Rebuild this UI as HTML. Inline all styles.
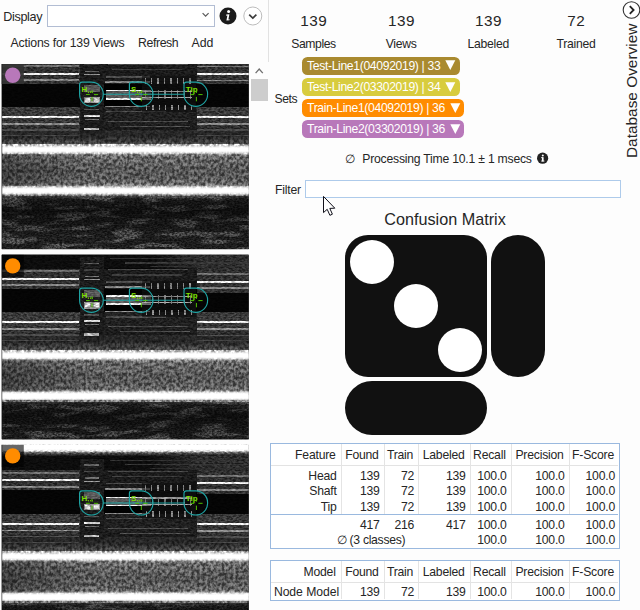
<!DOCTYPE html>
<html><head><meta charset="utf-8"><title>Database Overview</title>
<style>
html,body{margin:0;padding:0;background:#fdfdfd;}
body{width:640px;height:610px;position:relative;overflow:hidden;font-family:"Liberation Sans",sans-serif;}
.t{position:absolute;white-space:nowrap;line-height:1.149;font-family:"Liberation Sans",sans-serif;color:#262626;}
</style></head><body>
<div class="t" style="top:9.90px;font-size:12.6px;color:#262626;letter-spacing:-0.35px;left:3.30px;">Display</div>
<div style="position:absolute;left:47px;top:5px;width:166px;height:20px;border:1px solid #b2bdd3;background:#fff"></div>
<svg style="position:absolute;left:200px;top:10px" width="12" height="10"><path d="M2.6 3.2 L5.6 6.2 L8.6 3.2" fill="none" stroke="#5a5a5a" stroke-width="1.2"/></svg>
<svg style="position:absolute;left:218px;top:6px" width="20" height="20"><circle cx="10" cy="10" r="8.5" fill="#1a1a1a"/><circle cx="10.6" cy="5.6" r="1.5" fill="#fff"/><path d="M8.2 8.6 L11.4 8.2 L10.4 13.4 L11.6 13.2 L11.5 14.2 L8.4 14.6 L9.4 9.6 L8.1 9.7 Z" fill="#fff"/></svg>
<svg style="position:absolute;left:242px;top:5px" width="22" height="22"><circle cx="10.8" cy="11" r="9" fill="#fff" stroke="#b4b4b4" stroke-width="0.9"/><path d="M7.2 9.6 L10.8 13 L14.4 9.6" fill="none" stroke="#3c3c3c" stroke-width="1.7"/></svg>
<div class="t" style="top:36.17px;font-size:12.3px;color:#262626;letter-spacing:-0.2px;left:10.60px;">Actions for 139 Views</div>
<div class="t" style="top:36.17px;font-size:12.3px;color:#262626;letter-spacing:-0.4px;left:138.00px;">Refresh</div>
<div class="t" style="top:36.17px;font-size:12.3px;color:#262626;left:191.50px;">Add</div>
<div style="position:absolute;left:267.7px;top:0;width:1.3px;height:610px;background:#e2e2e2"></div>
<div style="position:absolute;left:251px;top:62px;width:17.5px;height:548px;background:#fdfdfd"></div>
<svg style="position:absolute;left:253px;top:65px" width="13" height="11"><path d="M2.6 8.2 L6.2 4.0 L9.8 8.2" fill="none" stroke="#707070" stroke-width="1.3"/></svg>
<div style="position:absolute;left:251.2px;top:78.8px;width:16.4px;height:21.8px;background:#cdcdcd"></div>
<div class="t" style="top:11.55px;font-size:15.3px;color:#262626;letter-spacing:0.5px;left:163.80px;width:300px;text-align:center;">139</div>
<div class="t" style="top:37.16px;font-size:12.2px;color:#262626;letter-spacing:-0.45px;left:163.50px;width:300px;text-align:center;">Samples</div>
<div class="t" style="top:11.55px;font-size:15.3px;color:#262626;letter-spacing:0.5px;left:251.50px;width:300px;text-align:center;">139</div>
<div class="t" style="top:37.16px;font-size:12.2px;color:#262626;letter-spacing:-0.25px;left:251.20px;width:300px;text-align:center;">Views</div>
<div class="t" style="top:11.55px;font-size:15.3px;color:#262626;letter-spacing:0.5px;left:338.60px;width:300px;text-align:center;">139</div>
<div class="t" style="top:37.16px;font-size:12.2px;color:#262626;letter-spacing:-0.25px;left:338.30px;width:300px;text-align:center;">Labeled</div>
<div class="t" style="top:11.55px;font-size:15.3px;color:#262626;letter-spacing:0.5px;left:426.30px;width:300px;text-align:center;">72</div>
<div class="t" style="top:37.16px;font-size:12.2px;color:#262626;letter-spacing:-0.25px;left:426.00px;width:300px;text-align:center;">Trained</div>
<svg style="position:absolute;left:621px;top:0px" width="19" height="20"><circle cx="10.5" cy="10" r="8.3" fill="#fff" stroke="#333" stroke-width="1.1"/><path d="M8.8 6.2 L12.6 10 L8.8 13.8" fill="none" stroke="#222" stroke-width="1.8"/></svg>
<div class="t" style="left:623px;top:157.5px;font-size:15.4px;transform-origin:0 0;transform:rotate(-90deg);">Database Overview</div>
<div class="t" style="top:91.56px;font-size:12.2px;color:#262626;letter-spacing:-0.4px;left:274.50px;">Sets</div>
<div style="position:absolute;left:302px;top:56.5px;width:158px;height:18.4px;border-radius:5.5px;background:#a98a2f"></div>
<div class="t" style="top:59.06px;font-size:12.2px;color:#fff;letter-spacing:-0.35px;left:307.00px;">Test-Line1(04092019) | 33</div>
<svg style="position:absolute;left:445.4px;top:60.3px" width="12" height="12"><path d="M0.3 0.3 L10.3 0.3 L5.3 10 Z" fill="#fff"/></svg>
<div style="position:absolute;left:302px;top:77.7px;width:158px;height:18.4px;border-radius:5.5px;background:#d8cc3e"></div>
<div class="t" style="top:80.26px;font-size:12.2px;color:#fff;letter-spacing:-0.35px;left:307.00px;">Test-Line2(03302019) | 34</div>
<svg style="position:absolute;left:445.4px;top:81.5px" width="12" height="12"><path d="M0.3 0.3 L10.3 0.3 L5.3 10 Z" fill="#fff"/></svg>
<div style="position:absolute;left:302px;top:98.7px;width:162.3px;height:18.4px;border-radius:5.5px;background:#ff8c00"></div>
<div class="t" style="top:101.26px;font-size:12.2px;color:#fff;letter-spacing:-0.35px;left:307.00px;">Train-Line1(04092019) | 36</div>
<svg style="position:absolute;left:449.7px;top:102.5px" width="12" height="12"><path d="M0.3 0.3 L10.3 0.3 L5.3 10 Z" fill="#fff"/></svg>
<div style="position:absolute;left:302px;top:119.7px;width:162.3px;height:18.4px;border-radius:5.5px;background:#b878ba"></div>
<div class="t" style="top:122.26px;font-size:12.2px;color:#fff;letter-spacing:-0.35px;left:307.00px;">Train-Line2(03302019) | 36</div>
<svg style="position:absolute;left:449.7px;top:123.5px" width="12" height="12"><path d="M0.3 0.3 L10.3 0.3 L5.3 10 Z" fill="#fff"/></svg>
<div class="t" style="top:152.37px;font-size:12.3px;color:#262626;left:344.80px;">&#8709;</div>
<div class="t" style="top:151.56px;font-size:12.2px;color:#262626;letter-spacing:-0.22px;left:362.30px;">Processing Time 10.1 ± 1 msecs</div>
<svg style="position:absolute;left:536px;top:152px" width="13" height="13"><circle cx="6.6" cy="6.2" r="5.6" fill="#222"/><circle cx="6.8" cy="3.4" r="1" fill="#fff"/><rect x="5.9" y="5.2" width="1.7" height="4.2" fill="#fff"/><rect x="5.2" y="5.2" width="1.4" height="0.9" fill="#fff"/><rect x="5.2" y="8.6" width="3.2" height="0.9" fill="#fff"/></svg>
<div class="t" style="top:182.86px;font-size:12.2px;color:#262626;letter-spacing:-0.2px;left:275.00px;">Filter</div>
<div style="position:absolute;left:305px;top:180px;width:313.5px;height:15.8px;border:1px solid #aecbeb;background:#fff"></div>
<svg style="position:absolute;left:322px;top:194.7px" width="16" height="24"><path d="M1.5 1.4 L1.5 17.6 L5.2 14.3 L7.9 20.3 L10.4 19.2 L7.8 13.4 L12.8 13.2 Z" fill="#fff" stroke="#10101a" stroke-width="1"/></svg>
<div class="t" style="top:210.14px;font-size:16.2px;color:#262626;left:295.00px;width:300px;text-align:center;">Confusion Matrix</div>
<div style="position:absolute;left:345px;top:235px;width:142px;height:142px;border-radius:23px;background:#111"></div>
<div style="position:absolute;left:350px;top:240px;width:44px;height:44px;border-radius:50%;background:#fff"></div>
<div style="position:absolute;left:394px;top:284px;width:44px;height:44px;border-radius:50%;background:#fff"></div>
<div style="position:absolute;left:438px;top:328px;width:44px;height:44px;border-radius:50%;background:#fff"></div>
<div style="position:absolute;left:491px;top:235px;width:54px;height:141.5px;border-radius:27px;background:#111"></div>
<div style="position:absolute;left:345px;top:380.7px;width:142px;height:54px;border-radius:27px;background:#111"></div>
<div style="position:absolute;left:270px;top:443px;width:348.29999999999995px;height:104px;border:1px solid #9ab9df;background:#fff"></div>
<div style="position:absolute;left:271px;top:465px;width:347px;height:1px;background:#e3e3e3"></div>
<div style="position:absolute;left:340.5px;top:444px;width:1px;height:70.29999999999995px;background:#e4e4e4"></div>
<div style="position:absolute;left:383.5px;top:444px;width:1px;height:70.29999999999995px;background:#e4e4e4"></div>
<div style="position:absolute;left:418.0px;top:444px;width:1px;height:70.29999999999995px;background:#e4e4e4"></div>
<div style="position:absolute;left:469.5px;top:444px;width:1px;height:70.29999999999995px;background:#e4e4e4"></div>
<div style="position:absolute;left:510.5px;top:444px;width:1px;height:70.29999999999995px;background:#e4e4e4"></div>
<div style="position:absolute;left:568.5px;top:444px;width:1px;height:70.29999999999995px;background:#e4e4e4"></div>
<div class="t" style="top:448.36px;font-size:12.2px;color:#262626;letter-spacing:-0.2px;right:304.30px;">Feature</div>
<div class="t" style="top:448.36px;font-size:12.2px;color:#262626;letter-spacing:-0.2px;right:261.30px;">Found</div>
<div class="t" style="top:448.36px;font-size:12.2px;color:#262626;letter-spacing:-0.2px;right:226.80px;">Train</div>
<div class="t" style="top:448.36px;font-size:12.2px;color:#262626;letter-spacing:-0.2px;right:175.30px;">Labeled</div>
<div class="t" style="top:448.36px;font-size:12.2px;color:#262626;letter-spacing:-0.2px;right:134.30px;">Recall</div>
<div class="t" style="top:448.36px;font-size:12.2px;color:#262626;letter-spacing:-0.2px;right:76.30px;">Precision</div>
<div class="t" style="top:448.36px;font-size:12.2px;color:#262626;letter-spacing:-0.2px;right:26.00px;">F-Score</div>
<div class="t" style="top:468.56px;font-size:12.2px;color:#262626;letter-spacing:-0.2px;right:303.30px;">Head</div>
<div class="t" style="top:468.56px;font-size:12.2px;color:#262626;letter-spacing:-0.2px;right:260.30px;">139</div>
<div class="t" style="top:468.56px;font-size:12.2px;color:#262626;letter-spacing:-0.2px;right:225.80px;">72</div>
<div class="t" style="top:468.56px;font-size:12.2px;color:#262626;letter-spacing:-0.2px;right:174.30px;">139</div>
<div class="t" style="top:468.56px;font-size:12.2px;color:#262626;letter-spacing:-0.2px;right:133.30px;">100.0</div>
<div class="t" style="top:468.56px;font-size:12.2px;color:#262626;letter-spacing:-0.2px;right:75.30px;">100.0</div>
<div class="t" style="top:468.56px;font-size:12.2px;color:#262626;letter-spacing:-0.2px;right:25.00px;">100.0</div>
<div class="t" style="top:484.46px;font-size:12.2px;color:#262626;letter-spacing:-0.2px;right:303.30px;">Shaft</div>
<div class="t" style="top:484.46px;font-size:12.2px;color:#262626;letter-spacing:-0.2px;right:260.30px;">139</div>
<div class="t" style="top:484.46px;font-size:12.2px;color:#262626;letter-spacing:-0.2px;right:225.80px;">72</div>
<div class="t" style="top:484.46px;font-size:12.2px;color:#262626;letter-spacing:-0.2px;right:174.30px;">139</div>
<div class="t" style="top:484.46px;font-size:12.2px;color:#262626;letter-spacing:-0.2px;right:133.30px;">100.0</div>
<div class="t" style="top:484.46px;font-size:12.2px;color:#262626;letter-spacing:-0.2px;right:75.30px;">100.0</div>
<div class="t" style="top:484.46px;font-size:12.2px;color:#262626;letter-spacing:-0.2px;right:25.00px;">100.0</div>
<div class="t" style="top:500.36px;font-size:12.2px;color:#262626;letter-spacing:-0.2px;right:303.30px;">Tip</div>
<div class="t" style="top:500.36px;font-size:12.2px;color:#262626;letter-spacing:-0.2px;right:260.30px;">139</div>
<div class="t" style="top:500.36px;font-size:12.2px;color:#262626;letter-spacing:-0.2px;right:225.80px;">72</div>
<div class="t" style="top:500.36px;font-size:12.2px;color:#262626;letter-spacing:-0.2px;right:174.30px;">139</div>
<div class="t" style="top:500.36px;font-size:12.2px;color:#262626;letter-spacing:-0.2px;right:133.30px;">100.0</div>
<div class="t" style="top:500.36px;font-size:12.2px;color:#262626;letter-spacing:-0.2px;right:75.30px;">100.0</div>
<div class="t" style="top:500.36px;font-size:12.2px;color:#262626;letter-spacing:-0.2px;right:25.00px;">100.0</div>
<div class="t" style="top:517.56px;font-size:12.2px;color:#262626;letter-spacing:-0.2px;right:260.30px;">417</div>
<div class="t" style="top:517.56px;font-size:12.2px;color:#262626;letter-spacing:-0.2px;right:225.80px;">216</div>
<div class="t" style="top:517.56px;font-size:12.2px;color:#262626;letter-spacing:-0.2px;right:174.30px;">417</div>
<div class="t" style="top:517.56px;font-size:12.2px;color:#262626;letter-spacing:-0.2px;right:133.30px;">100.0</div>
<div class="t" style="top:517.56px;font-size:12.2px;color:#262626;letter-spacing:-0.2px;right:75.30px;">100.0</div>
<div class="t" style="top:517.56px;font-size:12.2px;color:#262626;letter-spacing:-0.2px;right:25.00px;">100.0</div>
<div class="t" style="top:533.46px;font-size:12.2px;color:#262626;letter-spacing:-0.2px;right:133.30px;">100.0</div>
<div class="t" style="top:533.46px;font-size:12.2px;color:#262626;letter-spacing:-0.2px;right:75.30px;">100.0</div>
<div class="t" style="top:533.46px;font-size:12.2px;color:#262626;letter-spacing:-0.2px;right:25.00px;">100.0</div>
<div style="position:absolute;left:271px;top:514.3px;width:347px;height:1px;background:#9ab9df"></div>
<div class="t" style="top:533.46px;font-size:12.2px;color:#262626;letter-spacing:-0.3px;left:336.80px;">&#8709; (3 classes)</div>
<div style="position:absolute;left:270px;top:559.5px;width:348.29999999999995px;height:39.799999999999955px;border:1px solid #9ab9df;background:#fff"></div>
<div style="position:absolute;left:271px;top:581.5px;width:347px;height:1px;background:#e3e3e3"></div>
<div style="position:absolute;left:340.5px;top:560.5px;width:1px;height:38.799999999999955px;background:#e4e4e4"></div>
<div style="position:absolute;left:383.5px;top:560.5px;width:1px;height:38.799999999999955px;background:#e4e4e4"></div>
<div style="position:absolute;left:418.0px;top:560.5px;width:1px;height:38.799999999999955px;background:#e4e4e4"></div>
<div style="position:absolute;left:469.5px;top:560.5px;width:1px;height:38.799999999999955px;background:#e4e4e4"></div>
<div style="position:absolute;left:510.5px;top:560.5px;width:1px;height:38.799999999999955px;background:#e4e4e4"></div>
<div style="position:absolute;left:568.5px;top:560.5px;width:1px;height:38.799999999999955px;background:#e4e4e4"></div>
<div class="t" style="top:564.66px;font-size:12.2px;color:#262626;letter-spacing:-0.2px;right:304.30px;">Model</div>
<div class="t" style="top:564.66px;font-size:12.2px;color:#262626;letter-spacing:-0.2px;right:261.30px;">Found</div>
<div class="t" style="top:564.66px;font-size:12.2px;color:#262626;letter-spacing:-0.2px;right:226.80px;">Train</div>
<div class="t" style="top:564.66px;font-size:12.2px;color:#262626;letter-spacing:-0.2px;right:175.30px;">Labeled</div>
<div class="t" style="top:564.66px;font-size:12.2px;color:#262626;letter-spacing:-0.2px;right:134.30px;">Recall</div>
<div class="t" style="top:564.66px;font-size:12.2px;color:#262626;letter-spacing:-0.2px;right:76.30px;">Precision</div>
<div class="t" style="top:564.66px;font-size:12.2px;color:#262626;letter-spacing:-0.2px;right:26.00px;">F-Score</div>
<div class="t" style="top:584.86px;font-size:12.2px;color:#262626;letter-spacing:-0.2px;right:260.30px;">139</div>
<div class="t" style="top:584.86px;font-size:12.2px;color:#262626;letter-spacing:-0.2px;right:225.80px;">72</div>
<div class="t" style="top:584.86px;font-size:12.2px;color:#262626;letter-spacing:-0.2px;right:174.30px;">139</div>
<div class="t" style="top:584.86px;font-size:12.2px;color:#262626;letter-spacing:-0.2px;right:133.30px;">100.0</div>
<div class="t" style="top:584.86px;font-size:12.2px;color:#262626;letter-spacing:-0.2px;right:75.30px;">100.0</div>
<div class="t" style="top:584.86px;font-size:12.2px;color:#262626;letter-spacing:-0.2px;right:25.00px;">100.0</div>
<div style="position:absolute;left:271px;top:583px;width:69.5px;height:16px;overflow:hidden"><div class="t" style="left:2.9px;top:1.9px;font-size:12.2px;letter-spacing:-0.05px">Node Model</div></div>
<svg style="position:absolute;left:0;top:0" width="250" height="610" viewBox="0 0 250 610" shape-rendering="crispEdges">

<defs>
<linearGradient id="gup" x1="0" y1="0" x2="0" y2="1">
 <stop offset="0" stop-color="#383838" stop-opacity="0"/>
 <stop offset="0.3" stop-color="#383838" stop-opacity="0.5"/>
 <stop offset="0.62" stop-color="#3a3a3a"/>
 <stop offset="0.8" stop-color="#4a4a4a"/>
 <stop offset="0.91" stop-color="#727272"/>
 <stop offset="1" stop-color="#b0b0b0"/>
</linearGradient>
<linearGradient id="gtr" x1="0" y1="0" x2="1" y2="0">
 <stop offset="0" stop-color="#2c2c2c" stop-opacity="0"/>
 <stop offset="0.5" stop-color="#2c2c2c" stop-opacity="1"/>
 <stop offset="1" stop-color="#2c2c2c" stop-opacity="1"/>
</linearGradient>
<linearGradient id="gbelow" x1="0" y1="0" x2="0" y2="1">
 <stop offset="0" stop-color="#3a3a3a"/>
 <stop offset="0.42" stop-color="#363636"/>
 <stop offset="0.55" stop-color="#2a2a2a"/>
 <stop offset="1" stop-color="#2a2a2a"/>
</linearGradient>
<linearGradient id="gleft" x1="0" y1="0" x2="1" y2="0">
 <stop offset="0" stop-color="#101010" stop-opacity="0.4"/>
 <stop offset="0.5" stop-color="#101010" stop-opacity="0.2"/>
 <stop offset="1" stop-color="#202020" stop-opacity="0"/>
</linearGradient>
<linearGradient id="gtop" x1="0" y1="0" x2="0" y2="1">
 <stop offset="0" stop-color="#e0e0e0"/>
 <stop offset="0.8" stop-color="#c8c8c8"/>
 <stop offset="0.87" stop-color="#5a5a5a"/>
 <stop offset="0.95" stop-color="#2a2a2a"/>
 <stop offset="1" stop-color="#2a2a2a" stop-opacity="0"/>
</linearGradient>
<linearGradient id="gmid" x1="0" y1="0" x2="0" y2="1">
 <stop offset="0" stop-color="#b0b0b0"/>
 <stop offset="0.17" stop-color="#b0b0b0"/>
 <stop offset="0.195" stop-color="#7c7c7c"/>
 <stop offset="0.25" stop-color="#686868"/>
 <stop offset="0.34" stop-color="#626262"/>
 <stop offset="0.50" stop-color="#565656"/>
 <stop offset="0.64" stop-color="#5a5a5a"/>
 <stop offset="0.76" stop-color="#666666"/>
 <stop offset="0.795" stop-color="#7e7e7e"/>
 <stop offset="0.82" stop-color="#b0b0b0"/>
 <stop offset="1" stop-color="#b0b0b0"/>
</linearGradient>
<linearGradient id="glow" x1="0" y1="0" x2="0" y2="1">
 <stop offset="0" stop-color="#808080"/>
 <stop offset="0.03" stop-color="#4c4c4c"/>
 <stop offset="0.08" stop-color="#222"/>
 <stop offset="0.22" stop-color="#141414"/>
 <stop offset="0.36" stop-color="#1e1e1e"/>
 <stop offset="0.55" stop-color="#2a2a2a"/>
 <stop offset="1" stop-color="#2a2a2a"/>
</linearGradient>
<linearGradient id="gfade" x1="0" y1="0" x2="0" y2="1">
 <stop offset="0" stop-color="#808080" stop-opacity="0.9"/>
 <stop offset="0.3" stop-color="#505050" stop-opacity="0.6"/>
 <stop offset="0.75" stop-color="#303030" stop-opacity="0"/>
 <stop offset="1" stop-color="#303030" stop-opacity="0"/>
</linearGradient>
<filter id="nz" x="0" y="0" width="100%" height="100%" color-interpolation-filters="sRGB">
 <feTurbulence type="fractalNoise" baseFrequency="0.33 0.6" numOctaves="2" seed="7" result="t"/>
 <feColorMatrix in="t" type="matrix" values="1 0 0 0 0  1 0 0 0 0  1 0 0 0 0  0 0 0 0 1" result="g"/>
 <feComponentTransfer in="g" result="n">
  <feFuncR type="linear" slope="2.4" intercept="-0.7"/>
  <feFuncG type="linear" slope="2.4" intercept="-0.7"/>
  <feFuncB type="linear" slope="2.4" intercept="-0.7"/>
 </feComponentTransfer>
 <feComposite in="SourceGraphic" in2="n" operator="arithmetic" k1="0.9" k2="0.55" k3="0" k4="0" result="c"/>
 <feGaussianBlur in="c" stdDeviation="0.4 0.35"/>
</filter>
<filter id="nzv" x="0" y="0" width="100%" height="100%" color-interpolation-filters="sRGB">
 <feTurbulence type="fractalNoise" baseFrequency="0.36 0.3" numOctaves="2" seed="11" result="t"/>
 <feColorMatrix in="t" type="matrix" values="1 0 0 0 0  1 0 0 0 0  1 0 0 0 0  0 0 0 0 1" result="g"/>
 <feComponentTransfer in="g" result="n">
  <feFuncR type="linear" slope="2.4" intercept="-0.7"/>
  <feFuncG type="linear" slope="2.4" intercept="-0.7"/>
  <feFuncB type="linear" slope="2.4" intercept="-0.7"/>
 </feComponentTransfer>
 <feComposite in="SourceGraphic" in2="n" operator="arithmetic" k1="0.9" k2="0.55" k3="0" k4="0" result="c"/>
 <feGaussianBlur in="c" stdDeviation="0.4 0.5"/>
</filter>
<filter id="nzl" x="0" y="0" width="100%" height="100%" color-interpolation-filters="sRGB">
 <feTurbulence type="fractalNoise" baseFrequency="0.035 0.16" numOctaves="2" seed="5" result="t0"/>
 <feColorMatrix in="t0" type="matrix" values="1 0 0 0 0  1 0 0 0 0  1 0 0 0 0  0 0 0 0 1" result="g0"/>
 <feComponentTransfer in="g0" result="m">
  <feFuncR type="linear" slope="7" intercept="-3.45"/>
  <feFuncG type="linear" slope="7" intercept="-3.45"/>
  <feFuncB type="linear" slope="7" intercept="-3.45"/>
 </feComponentTransfer>
 <feComposite in="SourceGraphic" in2="m" operator="arithmetic" k1="1.0" k2="0.7" k3="0" k4="0" result="c0"/>
 <feTurbulence type="fractalNoise" baseFrequency="0.4 0.7" numOctaves="2" seed="9" result="t"/>
 <feColorMatrix in="t" type="matrix" values="1 0 0 0 0  1 0 0 0 0  1 0 0 0 0  0 0 0 0 1" result="g"/>
 <feComponentTransfer in="g" result="n">
  <feFuncR type="linear" slope="2.6" intercept="-0.8"/>
  <feFuncG type="linear" slope="2.6" intercept="-0.8"/>
  <feFuncB type="linear" slope="2.6" intercept="-0.8"/>
 </feComponentTransfer>
 <feComposite in="c0" in2="n" operator="arithmetic" k1="1.0" k2="0.5" k3="0" k4="0" result="c"/>
 <feGaussianBlur in="c" stdDeviation="0.4 0.35"/>
</filter>
<filter id="bl" x="0" y="0" width="100%" height="100%"><feGaussianBlur stdDeviation="0.2 0.85"/></filter>
<filter id="nz2" x="0" y="0" width="100%" height="100%" color-interpolation-filters="sRGB">
 <feTurbulence type="fractalNoise" baseFrequency="0.25 0.8" numOctaves="2" seed="3" result="t"/>
 <feColorMatrix in="t" type="matrix" values="1 0 0 0 0  1 0 0 0 0  1 0 0 0 0  0 0 0 0 1" result="g"/>
 <feComponentTransfer in="g" result="n">
  <feFuncR type="linear" slope="2.2" intercept="-0.6"/>
  <feFuncG type="linear" slope="2.2" intercept="-0.6"/>
  <feFuncB type="linear" slope="2.2" intercept="-0.6"/>
 </feComponentTransfer>
 <feComposite in="SourceGraphic" in2="n" operator="arithmetic" k1="0.5" k2="0.78" k3="0" k4="0" result="c"/>
 <feGaussianBlur in="c" stdDeviation="0.5 0.5"/>
</filter>
</defs>

<clipPath id="cp0"><rect shape-rendering="geometricPrecision" x="1.5" y="64.0" width="247.2" height="185.3"/></clipPath>
<g clip-path="url(#cp0)">
<rect x="1.5" y="64.0" width="247.2" height="185.3" fill="#141414" />
<g filter="url(#nz)">
<rect x="1.5" y="14.3" width="247.2" height="49.5" fill="#0d0d0d" />
<rect x="1.5" y="63.5" width="247.2" height="20.2" fill="#303030" />
<rect x="1.5" y="83.5" width="247.2" height="23.4" fill="#050505" />
<rect x="196.5" y="83.4" width="52.2" height="0.5" fill="#303030" />
<rect x="196.5" y="106.8" width="52.2" height="3.0" fill="#050505" />
<rect x="150.0" y="14.3" width="98.7" height="49.5" fill="url(#gtr)" />
<rect x="1.5" y="106.9" width="247.2" height="42.0" fill="url(#gbelow)" />
<rect x="1.5" y="22.3" width="247.2" height="27.0" fill="url(#gtop)" />
<rect x="103.5" y="63.3" width="93.0" height="67.0" fill="#000" opacity="0.42"/>
<rect x="79.5" y="52.3" width="24.0" height="84.0" fill="#1b1b1b" />
</g>
<g filter="url(#nzl)">
<rect x="1.5" y="193.3" width="247.2" height="80.0" fill="url(#glow)" />
</g>
<g filter="url(#nzv)">
<rect x="1.5" y="128.3" width="247.2" height="20.0" fill="url(#gup)" />
<g transform="translate(0 94.3)">
<rect x="1.5" y="50.0" width="247.2" height="52.0" fill="url(#gmid)" />
<rect x="1.5" y="59.5" width="90.0" height="32.5" fill="url(#gleft)" />
<rect x="1.5" y="99.5" width="247.2" height="7.0" fill="url(#gfade)" />
</g>
</g>
<g filter="url(#nz2)">
<rect x="1.5" y="65.2" width="77.5" height="1.5" fill="#6a6a6a" />
<rect x="196.5" y="65.8" width="52.2" height="1.5" fill="#6a6a6a" />
<rect x="1.5" y="72.5" width="77.5" height="2.0" fill="#e8e8e8" />
<rect x="196.5" y="73.0" width="52.2" height="2.0" fill="#e8e8e8" />
<rect x="1.5" y="79.2" width="77.5" height="1.5" fill="#808080" />
<rect x="196.5" y="79.8" width="52.2" height="1.5" fill="#808080" />
<rect x="1.5" y="115.8" width="77.5" height="2.1" fill="#ececec" />
<rect x="196.5" y="116.0" width="52.2" height="2.1" fill="#ececec" />
<rect x="1.5" y="122.9" width="77.5" height="1.6" fill="#888888" />
<rect x="196.5" y="123.2" width="52.2" height="1.6" fill="#888888" />
<rect x="1.5" y="129.1" width="77.5" height="1.4" fill="#484848" />
<rect x="196.5" y="129.4" width="52.2" height="1.4" fill="#484848" />
<rect x="1.5" y="134.7" width="77.5" height="1.2" fill="#404040" />
<rect x="196.5" y="135.0" width="52.2" height="1.2" fill="#404040" />
<rect x="84.0" y="57.5" width="15.0" height="1.6" fill="#5a5a5a" />
<rect x="85.0" y="70.5" width="14.0" height="1.6" fill="#6c6c6c" />
<rect x="84.0" y="73.6" width="16.0" height="1.4" fill="#8c8c8c" />
<rect x="84.0" y="115.3" width="16.0" height="2.0" fill="#c8c8c8" />
<rect x="85.0" y="118.6" width="14.0" height="1.4" fill="#6c6c6c" />
<rect x="84.0" y="128.2" width="15.0" height="2.2" fill="#b0b0b0" />
<rect x="84.0" y="64.2" width="15.0" height="1.2" fill="#3c3c3c" />
<rect x="84.0" y="109.2" width="15.0" height="1.2" fill="#505050" />
<rect x="84.0" y="85.3" width="16.0" height="6.5" fill="#565656" />
<rect x="84.0" y="96.9" width="16.0" height="6.5" fill="#8e8e8e" />
<rect x="85.0" y="97.9" width="5.0" height="4.0" fill="#d8d8d8" />
<rect x="94.0" y="97.9" width="5.0" height="4.0" fill="#cfcfcf" />
<rect x="108.0" y="63.6" width="80.0" height="1.4" fill="#444" />
<rect x="112.0" y="69.2" width="70.0" height="1.2" fill="#3a3a3a" />
<rect x="106.0" y="76.1" width="44.0" height="1.4" fill="#4c4c4c" />
<rect x="105.0" y="81.2" width="45.0" height="1.6" fill="#808080" />
<rect x="105.0" y="105.7" width="45.0" height="1.6" fill="#808080" />
<rect x="106.0" y="111.1" width="60.0" height="1.3" fill="#484848" />
<rect x="108.0" y="120.6" width="80.0" height="1.4" fill="#4a4a4a" />
<rect x="120.0" y="125.7" width="70.0" height="1.2" fill="#4c4c4c" />
<rect x="110.0" y="52.6" width="120.0" height="1.3" fill="#2e2e2e" />
<rect x="125.0" y="57.1" width="124.0" height="1.3" fill="#343434" />
<rect x="150.0" y="60.7" width="98.0" height="1.2" fill="#2c2c2c" />
<rect x="105.5" y="89.7" width="45.0" height="9.6" fill="#565656" />
<rect x="105.5" y="89.6" width="45.0" height="1.8" fill="#dcdcdc" />
<rect x="105.5" y="97.6" width="45.0" height="1.9" fill="#e6e6e6" />
<rect x="142.0" y="76.3" width="54.0" height="36.0" fill="#141414" opacity="0.6"/>
<rect x="144.5" y="78.3" width="1.4" height="5.4" fill="#7e7e7e" />
<rect x="145.7" y="104.5" width="1.4" height="5.6" fill="#848484" />
<rect x="145.2" y="89.7" width="1.2" height="9.2" fill="#6c6c6c" />
<rect x="150.9" y="78.3" width="1.4" height="5.4" fill="#7e7e7e" />
<rect x="152.1" y="104.5" width="1.4" height="5.6" fill="#848484" />
<rect x="151.6" y="89.7" width="1.2" height="9.2" fill="#6c6c6c" />
<rect x="157.3" y="78.3" width="1.4" height="5.4" fill="#7e7e7e" />
<rect x="158.5" y="104.5" width="1.4" height="5.6" fill="#848484" />
<rect x="158.0" y="89.7" width="1.2" height="9.2" fill="#6c6c6c" />
<rect x="163.7" y="78.3" width="1.4" height="5.4" fill="#7e7e7e" />
<rect x="164.9" y="104.5" width="1.4" height="5.6" fill="#848484" />
<rect x="164.4" y="89.7" width="1.2" height="9.2" fill="#6c6c6c" />
<rect x="170.1" y="78.3" width="1.4" height="5.4" fill="#7e7e7e" />
<rect x="171.3" y="104.5" width="1.4" height="5.6" fill="#848484" />
<rect x="170.8" y="89.7" width="1.2" height="9.2" fill="#6c6c6c" />
<rect x="176.5" y="78.3" width="1.4" height="5.4" fill="#7e7e7e" />
<rect x="177.7" y="104.5" width="1.4" height="5.6" fill="#848484" />
<rect x="177.2" y="89.7" width="1.2" height="9.2" fill="#6c6c6c" />
<rect x="182.9" y="78.3" width="1.4" height="5.4" fill="#7e7e7e" />
<rect x="184.1" y="104.5" width="1.4" height="5.6" fill="#848484" />
<rect x="183.6" y="89.7" width="1.2" height="9.2" fill="#6c6c6c" />
<rect x="189.3" y="78.3" width="1.4" height="5.4" fill="#7e7e7e" />
<rect x="190.5" y="104.5" width="1.4" height="5.6" fill="#848484" />
<rect x="190.0" y="89.7" width="1.2" height="9.2" fill="#6c6c6c" />
<rect x="141.5" y="90.5" width="50.0" height="1.1" fill="#8c8c8c" />
<rect x="141.5" y="97.1" width="50.0" height="1.1" fill="#9a9a9a" />
</g>
<g filter="url(#bl)">
<rect x="1.5" y="146.3" width="247.2" height="6.9" fill="#fff" />
<rect x="1.5" y="186.8" width="247.2" height="7.6" fill="#fff" />
<rect x="1.5" y="22.3" width="247.2" height="21.6" fill="#fff" />
</g>
<g shape-rendering="geometricPrecision">
<path d="M82.1 82.1 L91.4 82.1 A11.8 11.8 0 0 1 103.2 93.9 L103.2 94.5 A11.8 11.8 0 0 1 91.4 106.3 L91.4 106.3 A11.8 11.8 0 0 1 79.6 94.5 L79.6 84.6 A2.5 2.5 0 0 1 82.1 82.1 Z" fill="none" stroke="#1fa3a3" stroke-width="1.15"/>
<path d="M131.9 82.1 L141.2 82.1 A11.8 11.8 0 0 1 153.0 93.9 L153.0 94.5 A11.8 11.8 0 0 1 141.2 106.3 L141.2 106.3 A11.8 11.8 0 0 1 129.4 94.5 L129.4 84.6 A2.5 2.5 0 0 1 131.9 82.1 Z" fill="none" stroke="#1fa3a3" stroke-width="1.15"/>
<path d="M186.5 82.1 L195.8 82.1 A11.8 11.8 0 0 1 207.6 93.9 L207.6 94.5 A11.8 11.8 0 0 1 195.8 106.3 L195.8 106.3 A11.8 11.8 0 0 1 184.0 94.5 L184.0 84.6 A2.5 2.5 0 0 1 186.5 82.1 Z" fill="none" stroke="#1fa3a3" stroke-width="1.15"/>
<path d="M103 94.3 L184 94.3" stroke="#1fa3a3" stroke-width="1.1"/>
<text x="81.4" y="92.3" font-family="Liberation Sans, sans-serif" font-size="7.9" font-weight="bold" fill="#7fe000">H</text>
<text x="131.0" y="92.3" font-family="Liberation Sans, sans-serif" font-size="7.9" font-weight="bold" fill="#7fe000">S</text>
<text x="185.8" y="92.3" font-family="Liberation Sans, sans-serif" font-size="7.9" font-weight="bold" fill="#7fe000">Tip</text>
<path d="M87.8 92.1 h5 M137 92.1 h6.5" stroke="#7fe000" stroke-width="1.1" stroke-dasharray="1.2 0.9"/>
<path d="M86.0 94.6 h3.8 M94.0 94.6 h4.2 M92.0 90.3 v2.6 M92.0 96.9 v4.4" stroke="#4fc000" stroke-width="1.0"/>
<path d="M135.3 94.6 h3.8 M143.3 94.6 h4.2 M141.3 90.3 v2.6 M141.3 96.9 v4.4" stroke="#4fc000" stroke-width="1.0"/>
<path d="M190.4 94.6 h3.8 M198.4 94.6 h4.2 M196.4 90.3 v2.6 M196.4 96.9 v4.4" stroke="#4fc000" stroke-width="1.0"/>
<rect x="1.5" y="64.0" width="22.3" height="20" fill="#333" opacity="0.93"/>
<rect x="1.2" y="64.0" width="1" height="185.3" fill="#0a0a0a"/>
<circle cx="12.7" cy="75.3" r="7.7" fill="#b878ba"/>
</g>
</g>
<clipPath id="cp1"><rect shape-rendering="geometricPrecision" x="1.5" y="254.6" width="247.2" height="184.8"/></clipPath>
<g clip-path="url(#cp1)">
<rect x="1.5" y="254.6" width="247.2" height="184.8" fill="#141414" />
<g filter="url(#nz)">
<rect x="1.5" y="219.4" width="247.2" height="49.5" fill="#0d0d0d" />
<rect x="1.5" y="268.6" width="247.2" height="20.2" fill="#303030" />
<rect x="1.5" y="288.6" width="247.2" height="23.4" fill="#050505" />
<rect x="196.5" y="288.5" width="52.2" height="4.0" fill="#303030" />
<rect x="196.5" y="311.9" width="52.2" height="1.0" fill="#050505" />
<rect x="150.0" y="219.4" width="98.7" height="49.5" fill="url(#gtr)" />
<rect x="1.5" y="312.0" width="247.2" height="42.2" fill="url(#gbelow)" />
<rect x="1.5" y="227.4" width="247.2" height="27.0" fill="url(#gtop)" />
<rect x="103.5" y="268.4" width="93.0" height="67.0" fill="#000" opacity="0.42"/>
<rect x="79.5" y="257.4" width="24.0" height="84.0" fill="#1b1b1b" />
</g>
<g filter="url(#nzl)">
<rect x="1.5" y="398.6" width="247.2" height="80.0" fill="url(#glow)" />
</g>
<g filter="url(#nzv)">
<rect x="1.5" y="333.4" width="247.2" height="20.2" fill="url(#gup)" />
<g transform="translate(0 299.6)">
<rect x="1.5" y="50.0" width="247.2" height="52.0" fill="url(#gmid)" />
<rect x="1.5" y="59.5" width="90.0" height="32.5" fill="url(#gleft)" />
<rect x="1.5" y="99.5" width="247.2" height="7.0" fill="url(#gfade)" />
</g>
</g>
<g filter="url(#nz2)">
<rect x="1.5" y="270.3" width="77.5" height="1.5" fill="#6a6a6a" />
<rect x="196.5" y="273.2" width="52.2" height="1.5" fill="#6a6a6a" />
<rect x="1.5" y="277.6" width="77.5" height="2.0" fill="#e8e8e8" />
<rect x="196.5" y="280.5" width="52.2" height="2.0" fill="#e8e8e8" />
<rect x="1.5" y="284.3" width="77.5" height="1.5" fill="#808080" />
<rect x="196.5" y="287.2" width="52.2" height="1.5" fill="#808080" />
<rect x="1.5" y="320.8" width="77.5" height="2.1" fill="#ececec" />
<rect x="196.5" y="321.1" width="52.2" height="2.1" fill="#ececec" />
<rect x="1.5" y="328.0" width="77.5" height="1.6" fill="#888888" />
<rect x="196.5" y="328.3" width="52.2" height="1.6" fill="#888888" />
<rect x="1.5" y="334.2" width="77.5" height="1.4" fill="#484848" />
<rect x="196.5" y="334.5" width="52.2" height="1.4" fill="#484848" />
<rect x="1.5" y="339.8" width="77.5" height="1.2" fill="#404040" />
<rect x="196.5" y="340.1" width="52.2" height="1.2" fill="#404040" />
<rect x="84.0" y="262.6" width="15.0" height="1.6" fill="#5a5a5a" />
<rect x="85.0" y="275.6" width="14.0" height="1.6" fill="#6c6c6c" />
<rect x="84.0" y="278.7" width="16.0" height="1.4" fill="#8c8c8c" />
<rect x="84.0" y="320.4" width="16.0" height="2.0" fill="#c8c8c8" />
<rect x="85.0" y="323.7" width="14.0" height="1.4" fill="#6c6c6c" />
<rect x="84.0" y="333.3" width="15.0" height="2.2" fill="#b0b0b0" />
<rect x="84.0" y="269.3" width="15.0" height="1.2" fill="#3c3c3c" />
<rect x="84.0" y="314.3" width="15.0" height="1.2" fill="#505050" />
<rect x="84.0" y="290.4" width="16.0" height="6.5" fill="#565656" />
<rect x="84.0" y="302.0" width="16.0" height="6.5" fill="#8e8e8e" />
<rect x="85.0" y="303.0" width="5.0" height="4.0" fill="#d8d8d8" />
<rect x="94.0" y="303.0" width="5.0" height="4.0" fill="#cfcfcf" />
<rect x="108.0" y="268.7" width="80.0" height="1.4" fill="#444" />
<rect x="112.0" y="274.3" width="70.0" height="1.2" fill="#3a3a3a" />
<rect x="106.0" y="281.2" width="44.0" height="1.4" fill="#4c4c4c" />
<rect x="105.0" y="286.3" width="45.0" height="1.6" fill="#808080" />
<rect x="105.0" y="310.8" width="45.0" height="1.6" fill="#808080" />
<rect x="106.0" y="316.2" width="60.0" height="1.3" fill="#484848" />
<rect x="108.0" y="325.7" width="80.0" height="1.4" fill="#4a4a4a" />
<rect x="120.0" y="330.8" width="70.0" height="1.2" fill="#4c4c4c" />
<rect x="110.0" y="257.8" width="120.0" height="1.3" fill="#2e2e2e" />
<rect x="125.0" y="262.2" width="124.0" height="1.3" fill="#343434" />
<rect x="150.0" y="265.8" width="98.0" height="1.2" fill="#2c2c2c" />
<rect x="105.5" y="294.8" width="45.0" height="9.6" fill="#565656" />
<rect x="105.5" y="294.7" width="45.0" height="1.8" fill="#dcdcdc" />
<rect x="105.5" y="302.7" width="45.0" height="1.9" fill="#e6e6e6" />
<rect x="142.0" y="281.4" width="54.0" height="36.0" fill="#141414" opacity="0.6"/>
<rect x="144.5" y="283.4" width="1.4" height="5.4" fill="#7e7e7e" />
<rect x="145.7" y="309.6" width="1.4" height="5.6" fill="#848484" />
<rect x="145.2" y="294.8" width="1.2" height="9.2" fill="#6c6c6c" />
<rect x="150.9" y="283.4" width="1.4" height="5.4" fill="#7e7e7e" />
<rect x="152.1" y="309.6" width="1.4" height="5.6" fill="#848484" />
<rect x="151.6" y="294.8" width="1.2" height="9.2" fill="#6c6c6c" />
<rect x="157.3" y="283.4" width="1.4" height="5.4" fill="#7e7e7e" />
<rect x="158.5" y="309.6" width="1.4" height="5.6" fill="#848484" />
<rect x="158.0" y="294.8" width="1.2" height="9.2" fill="#6c6c6c" />
<rect x="163.7" y="283.4" width="1.4" height="5.4" fill="#7e7e7e" />
<rect x="164.9" y="309.6" width="1.4" height="5.6" fill="#848484" />
<rect x="164.4" y="294.8" width="1.2" height="9.2" fill="#6c6c6c" />
<rect x="170.1" y="283.4" width="1.4" height="5.4" fill="#7e7e7e" />
<rect x="171.3" y="309.6" width="1.4" height="5.6" fill="#848484" />
<rect x="170.8" y="294.8" width="1.2" height="9.2" fill="#6c6c6c" />
<rect x="176.5" y="283.4" width="1.4" height="5.4" fill="#7e7e7e" />
<rect x="177.7" y="309.6" width="1.4" height="5.6" fill="#848484" />
<rect x="177.2" y="294.8" width="1.2" height="9.2" fill="#6c6c6c" />
<rect x="182.9" y="283.4" width="1.4" height="5.4" fill="#7e7e7e" />
<rect x="184.1" y="309.6" width="1.4" height="5.6" fill="#848484" />
<rect x="183.6" y="294.8" width="1.2" height="9.2" fill="#6c6c6c" />
<rect x="189.3" y="283.4" width="1.4" height="5.4" fill="#7e7e7e" />
<rect x="190.5" y="309.6" width="1.4" height="5.6" fill="#848484" />
<rect x="190.0" y="294.8" width="1.2" height="9.2" fill="#6c6c6c" />
<rect x="141.5" y="295.6" width="50.0" height="1.1" fill="#8c8c8c" />
<rect x="141.5" y="302.2" width="50.0" height="1.1" fill="#9a9a9a" />
</g>
<g filter="url(#bl)">
<rect x="1.5" y="351.6" width="247.2" height="6.9" fill="#fff" />
<rect x="1.5" y="392.1" width="247.2" height="7.6" fill="#fff" />
<rect x="1.5" y="227.4" width="247.2" height="21.6" fill="#fff" />
</g>
<g shape-rendering="geometricPrecision">
<path d="M82.1 288.1 L91.4 288.1 A11.8 11.8 0 0 1 103.2 299.9 L103.2 300.5 A11.8 11.8 0 0 1 91.4 312.3 L91.4 312.3 A11.8 11.8 0 0 1 79.6 300.5 L79.6 290.6 A2.5 2.5 0 0 1 82.1 288.1 Z" fill="none" stroke="#1fa3a3" stroke-width="1.15"/>
<path d="M131.9 288.1 L141.2 288.1 A11.8 11.8 0 0 1 153.0 299.9 L153.0 300.5 A11.8 11.8 0 0 1 141.2 312.3 L141.2 312.3 A11.8 11.8 0 0 1 129.4 300.5 L129.4 290.6 A2.5 2.5 0 0 1 131.9 288.1 Z" fill="none" stroke="#1fa3a3" stroke-width="1.15"/>
<path d="M186.5 288.1 L195.8 288.1 A11.8 11.8 0 0 1 207.6 299.9 L207.6 300.5 A11.8 11.8 0 0 1 195.8 312.3 L195.8 312.3 A11.8 11.8 0 0 1 184.0 300.5 L184.0 290.6 A2.5 2.5 0 0 1 186.5 288.1 Z" fill="none" stroke="#1fa3a3" stroke-width="1.15"/>
<path d="M103 300.3 L184 300.3" stroke="#1fa3a3" stroke-width="1.1"/>
<text x="81.4" y="298.3" font-family="Liberation Sans, sans-serif" font-size="7.9" font-weight="bold" fill="#7fe000">H</text>
<text x="131.0" y="298.3" font-family="Liberation Sans, sans-serif" font-size="7.9" font-weight="bold" fill="#7fe000">S</text>
<text x="185.8" y="298.3" font-family="Liberation Sans, sans-serif" font-size="7.9" font-weight="bold" fill="#7fe000">Tip</text>
<path d="M87.8 298.1 h5 M137 298.1 h6.5" stroke="#7fe000" stroke-width="1.1" stroke-dasharray="1.2 0.9"/>
<path d="M86.0 300.6 h3.8 M94.0 300.6 h4.2 M92.0 296.3 v2.6 M92.0 302.9 v4.4" stroke="#4fc000" stroke-width="1.0"/>
<path d="M135.3 300.6 h3.8 M143.3 300.6 h4.2 M141.3 296.3 v2.6 M141.3 302.9 v4.4" stroke="#4fc000" stroke-width="1.0"/>
<path d="M190.4 300.6 h3.8 M198.4 300.6 h4.2 M196.4 296.3 v2.6 M196.4 302.9 v4.4" stroke="#4fc000" stroke-width="1.0"/>
<rect x="1.5" y="254.6" width="22.3" height="22.5" fill="#000" opacity="0.6"/>
<rect x="1.2" y="254.6" width="1" height="184.8" fill="#0a0a0a"/>
<circle cx="12.7" cy="265.9" r="7.7" fill="#ff8c00"/>
</g>
</g>
<clipPath id="cp2"><rect shape-rendering="geometricPrecision" x="1.5" y="444.6" width="247.2" height="165.4"/></clipPath>
<g clip-path="url(#cp2)">
<rect x="1.5" y="444.6" width="247.2" height="165.4" fill="#141414" />
<g filter="url(#nz)">
<rect x="1.5" y="421.2" width="247.2" height="49.5" fill="#0d0d0d" />
<rect x="1.5" y="470.4" width="247.2" height="20.2" fill="#303030" />
<rect x="1.5" y="490.4" width="247.2" height="23.4" fill="#050505" />
<rect x="196.5" y="490.3" width="52.2" height="4.0" fill="#303030" />
<rect x="196.5" y="513.7" width="52.2" height="4.5" fill="#050505" />
<rect x="150.0" y="421.2" width="98.7" height="49.5" fill="url(#gtr)" />
<rect x="1.5" y="513.8" width="247.2" height="41.6" fill="url(#gbelow)" />
<rect x="1.5" y="429.2" width="247.2" height="27.0" fill="url(#gtop)" />
<rect x="103.5" y="470.2" width="93.0" height="67.0" fill="#000" opacity="0.42"/>
<rect x="79.5" y="459.2" width="24.0" height="84.0" fill="#1b1b1b" />
</g>
<g filter="url(#nzl)">
<rect x="1.5" y="599.8" width="247.2" height="80.0" fill="url(#glow)" />
</g>
<g filter="url(#nzv)">
<rect x="1.5" y="535.2" width="247.2" height="19.6" fill="url(#gup)" />
<g transform="translate(0 500.8)">
<rect x="1.5" y="50.0" width="247.2" height="52.0" fill="url(#gmid)" />
<rect x="1.5" y="59.5" width="90.0" height="32.5" fill="url(#gleft)" />
<rect x="1.5" y="99.5" width="247.2" height="7.0" fill="url(#gfade)" />
</g>
</g>
<g filter="url(#nz2)">
<rect x="1.5" y="472.1" width="77.5" height="1.5" fill="#6a6a6a" />
<rect x="196.5" y="475.0" width="52.2" height="1.5" fill="#6a6a6a" />
<rect x="1.5" y="479.4" width="77.5" height="2.0" fill="#e8e8e8" />
<rect x="196.5" y="482.3" width="52.2" height="2.0" fill="#e8e8e8" />
<rect x="1.5" y="486.1" width="77.5" height="1.5" fill="#808080" />
<rect x="196.5" y="489.0" width="52.2" height="1.5" fill="#808080" />
<rect x="1.5" y="522.7" width="77.5" height="2.1" fill="#ececec" />
<rect x="196.5" y="523.0" width="52.2" height="2.1" fill="#ececec" />
<rect x="1.5" y="529.8" width="77.5" height="1.6" fill="#888888" />
<rect x="196.5" y="530.1" width="52.2" height="1.6" fill="#888888" />
<rect x="1.5" y="536.0" width="77.5" height="1.4" fill="#484848" />
<rect x="196.5" y="536.3" width="52.2" height="1.4" fill="#484848" />
<rect x="1.5" y="541.6" width="77.5" height="1.2" fill="#404040" />
<rect x="196.5" y="541.9" width="52.2" height="1.2" fill="#404040" />
<rect x="84.0" y="464.4" width="15.0" height="1.6" fill="#5a5a5a" />
<rect x="85.0" y="477.4" width="14.0" height="1.6" fill="#6c6c6c" />
<rect x="84.0" y="480.5" width="16.0" height="1.4" fill="#8c8c8c" />
<rect x="84.0" y="522.2" width="16.0" height="2.0" fill="#c8c8c8" />
<rect x="85.0" y="525.5" width="14.0" height="1.4" fill="#6c6c6c" />
<rect x="84.0" y="535.1" width="15.0" height="2.2" fill="#b0b0b0" />
<rect x="84.0" y="471.1" width="15.0" height="1.2" fill="#3c3c3c" />
<rect x="84.0" y="516.1" width="15.0" height="1.2" fill="#505050" />
<rect x="84.0" y="492.2" width="16.0" height="6.5" fill="#565656" />
<rect x="84.0" y="503.8" width="16.0" height="6.5" fill="#8e8e8e" />
<rect x="85.0" y="504.8" width="5.0" height="4.0" fill="#d8d8d8" />
<rect x="94.0" y="504.8" width="5.0" height="4.0" fill="#cfcfcf" />
<rect x="108.0" y="470.5" width="80.0" height="1.4" fill="#444" />
<rect x="112.0" y="476.1" width="70.0" height="1.2" fill="#3a3a3a" />
<rect x="106.0" y="483.0" width="44.0" height="1.4" fill="#4c4c4c" />
<rect x="105.0" y="488.1" width="45.0" height="1.6" fill="#808080" />
<rect x="105.0" y="512.6" width="45.0" height="1.6" fill="#808080" />
<rect x="106.0" y="518.1" width="60.0" height="1.3" fill="#484848" />
<rect x="108.0" y="527.5" width="80.0" height="1.4" fill="#4a4a4a" />
<rect x="120.0" y="532.6" width="70.0" height="1.2" fill="#4c4c4c" />
<rect x="110.0" y="459.6" width="120.0" height="1.3" fill="#2e2e2e" />
<rect x="125.0" y="464.1" width="124.0" height="1.3" fill="#343434" />
<rect x="150.0" y="467.6" width="98.0" height="1.2" fill="#2c2c2c" />
<rect x="105.5" y="496.6" width="45.0" height="9.6" fill="#565656" />
<rect x="105.5" y="496.5" width="45.0" height="1.8" fill="#dcdcdc" />
<rect x="105.5" y="504.5" width="45.0" height="1.9" fill="#e6e6e6" />
<rect x="142.0" y="483.2" width="54.0" height="36.0" fill="#141414" opacity="0.6"/>
<rect x="144.5" y="485.2" width="1.4" height="5.4" fill="#7e7e7e" />
<rect x="145.7" y="511.4" width="1.4" height="5.6" fill="#848484" />
<rect x="145.2" y="496.6" width="1.2" height="9.2" fill="#6c6c6c" />
<rect x="150.9" y="485.2" width="1.4" height="5.4" fill="#7e7e7e" />
<rect x="152.1" y="511.4" width="1.4" height="5.6" fill="#848484" />
<rect x="151.6" y="496.6" width="1.2" height="9.2" fill="#6c6c6c" />
<rect x="157.3" y="485.2" width="1.4" height="5.4" fill="#7e7e7e" />
<rect x="158.5" y="511.4" width="1.4" height="5.6" fill="#848484" />
<rect x="158.0" y="496.6" width="1.2" height="9.2" fill="#6c6c6c" />
<rect x="163.7" y="485.2" width="1.4" height="5.4" fill="#7e7e7e" />
<rect x="164.9" y="511.4" width="1.4" height="5.6" fill="#848484" />
<rect x="164.4" y="496.6" width="1.2" height="9.2" fill="#6c6c6c" />
<rect x="170.1" y="485.2" width="1.4" height="5.4" fill="#7e7e7e" />
<rect x="171.3" y="511.4" width="1.4" height="5.6" fill="#848484" />
<rect x="170.8" y="496.6" width="1.2" height="9.2" fill="#6c6c6c" />
<rect x="176.5" y="485.2" width="1.4" height="5.4" fill="#7e7e7e" />
<rect x="177.7" y="511.4" width="1.4" height="5.6" fill="#848484" />
<rect x="177.2" y="496.6" width="1.2" height="9.2" fill="#6c6c6c" />
<rect x="182.9" y="485.2" width="1.4" height="5.4" fill="#7e7e7e" />
<rect x="184.1" y="511.4" width="1.4" height="5.6" fill="#848484" />
<rect x="183.6" y="496.6" width="1.2" height="9.2" fill="#6c6c6c" />
<rect x="189.3" y="485.2" width="1.4" height="5.4" fill="#7e7e7e" />
<rect x="190.5" y="511.4" width="1.4" height="5.6" fill="#848484" />
<rect x="190.0" y="496.6" width="1.2" height="9.2" fill="#6c6c6c" />
<rect x="141.5" y="497.4" width="50.0" height="1.1" fill="#8c8c8c" />
<rect x="141.5" y="504.0" width="50.0" height="1.1" fill="#9a9a9a" />
</g>
<g filter="url(#bl)">
<rect x="1.5" y="552.8" width="247.2" height="6.9" fill="#fff" />
<rect x="1.5" y="593.3" width="247.2" height="7.6" fill="#fff" />
<rect x="1.5" y="429.2" width="247.2" height="21.6" fill="#fff" />
</g>
<g shape-rendering="geometricPrecision">
<path d="M82.1 490.8 L91.4 490.8 A11.8 11.8 0 0 1 103.2 502.6 L103.2 503.2 A11.8 11.8 0 0 1 91.4 515.0 L91.4 515.0 A11.8 11.8 0 0 1 79.6 503.2 L79.6 493.3 A2.5 2.5 0 0 1 82.1 490.8 Z" fill="none" stroke="#1fa3a3" stroke-width="1.15"/>
<path d="M131.9 490.8 L141.2 490.8 A11.8 11.8 0 0 1 153.0 502.6 L153.0 503.2 A11.8 11.8 0 0 1 141.2 515.0 L141.2 515.0 A11.8 11.8 0 0 1 129.4 503.2 L129.4 493.3 A2.5 2.5 0 0 1 131.9 490.8 Z" fill="none" stroke="#1fa3a3" stroke-width="1.15"/>
<path d="M186.5 490.8 L195.8 490.8 A11.8 11.8 0 0 1 207.6 502.6 L207.6 503.2 A11.8 11.8 0 0 1 195.8 515.0 L195.8 515.0 A11.8 11.8 0 0 1 184.0 503.2 L184.0 493.3 A2.5 2.5 0 0 1 186.5 490.8 Z" fill="none" stroke="#1fa3a3" stroke-width="1.15"/>
<path d="M103 503.0 L184 503.0" stroke="#1fa3a3" stroke-width="1.1"/>
<text x="81.4" y="501.0" font-family="Liberation Sans, sans-serif" font-size="7.9" font-weight="bold" fill="#7fe000">H</text>
<text x="131.0" y="501.0" font-family="Liberation Sans, sans-serif" font-size="7.9" font-weight="bold" fill="#7fe000">S</text>
<text x="185.8" y="501.0" font-family="Liberation Sans, sans-serif" font-size="7.9" font-weight="bold" fill="#7fe000">Tip</text>
<path d="M87.8 500.8 h5 M137 500.8 h6.5" stroke="#7fe000" stroke-width="1.1" stroke-dasharray="1.2 0.9"/>
<path d="M86.0 503.3 h3.8 M94.0 503.3 h4.2 M92.0 499.0 v2.6 M92.0 505.6 v4.4" stroke="#4fc000" stroke-width="1.0"/>
<path d="M135.3 503.3 h3.8 M143.3 503.3 h4.2 M141.3 499.0 v2.6 M141.3 505.6 v4.4" stroke="#4fc000" stroke-width="1.0"/>
<path d="M190.4 503.3 h3.8 M198.4 503.3 h4.2 M196.4 499.0 v2.6 M196.4 505.6 v4.4" stroke="#4fc000" stroke-width="1.0"/>
<rect x="1.5" y="444.6" width="22.3" height="22.5" fill="#000" opacity="0.6"/>
<rect x="1.2" y="444.6" width="1" height="165.4" fill="#0a0a0a"/>
<circle cx="12.7" cy="455.9" r="7.7" fill="#ff8c00"/>
</g>
</g>
</svg>
</body></html>
